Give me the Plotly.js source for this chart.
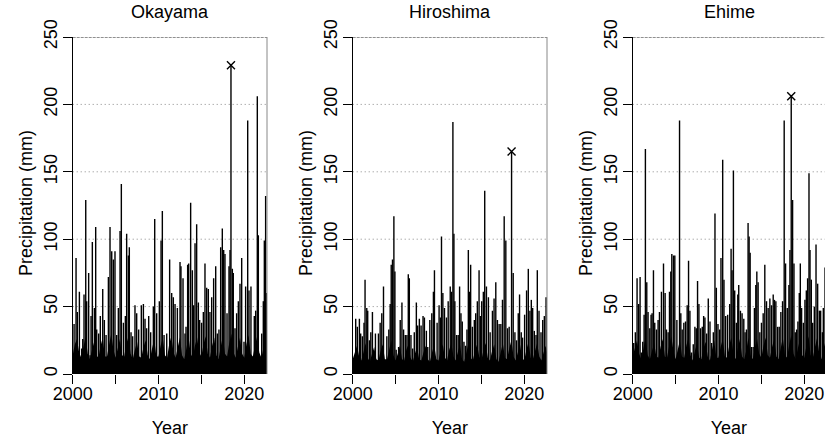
<!DOCTYPE html>
<html>
<head>
<meta charset="utf-8">
<script src="https://cdn.plot.ly/plotly-3.0.1.min.js"></script>
<style>html,body{margin:0;padding:0;background:#fff;}#chart{width:825px;height:441px;}</style>
</head>
<body>
<div id="chart"></div>
<script>
// ---------- data (decimal year, daily precipitation mm) ----------
const panelNames = ["Okayama", "Hiroshima", "Ehime"];
const eventYear = 2018.5; // marked event (July 2018)

const okaYears = [2000.16,2000.39,2000.54,2000.78,2001.05,2001.17,2001.32,2001.52,2001.63,2001.86,2002.02,2002.14,2002.29,2002.53,2002.68,2002.80,2003.03,2003.22,2003.50,2003.69,2003.89,2004.16,2004.35,2004.55,2004.74,2004.93,2005.13,2005.32,2005.52,2005.67,2005.91,2006.14,2006.29,2006.49,2006.60,2006.80,2006.99,2007.26,2007.46,2007.69,2008.00,2008.24,2008.43,2008.62,2008.86,2009.09,2009.40,2009.56,2009.79,2010.10,2010.30,2010.45,2010.65,2010.96,2011.30,2011.54,2011.73,2011.93,2012.20,2012.51,2012.62,2012.86,2013.09,2013.21,2013.40,2013.52,2013.75,2013.95,2014.10,2014.26,2014.45,2014.65,2014.80,2015.03,2015.23,2015.42,2015.62,2015.81,2016.00,2016.20,2016.43,2016.67,2016.86,2017.05,2017.25,2017.44,2017.60,2017.75,2017.99,2018.22,2018.34,2018.45,2018.61,2018.72,2018.92,2019.11,2019.31,2019.50,2019.70,2019.97,2020.16,2020.40,2020.55,2020.78,2021.17,2021.33,2021.52,2021.64,2022.03,2022.22,2022.34,2022.49,2022.60];
const okaPrecip = [37,86,46,61,19,26,59,129,54,75,14,43,98,49,109,33,30,43,63,40,29,72,109,91,85,91,29,49,106,141,38,43,104,88,94,31,28,51,45,33,51,52,41,34,43,31,50,115,45,54,99,121,29,30,85,60,57,52,49,83,80,71,30,35,81,82,127,77,51,97,111,53,40,38,46,82,64,63,46,57,71,80,30,33,94,108,92,89,45,80,92,229,78,75,34,45,54,67,86,24,65,188,62,65,43,47,206,103,30,54,99,132,60];

const hiroYears = [2000.35,2000.54,2000.78,2000.93,2001.13,2001.32,2001.44,2001.64,2001.75,2001.95,2002.11,2002.30,2002.65,2003.00,2003.20,2003.39,2003.59,2003.98,2004.21,2004.37,2004.49,2004.64,2004.80,2004.92,2005.07,2005.35,2005.54,2005.74,2005.93,2006.13,2006.32,2006.48,2006.60,2006.79,2006.99,2007.18,2007.42,2007.57,2007.77,2007.97,2008.20,2008.36,2008.59,2008.75,2008.99,2009.22,2009.41,2009.53,2009.84,2010.07,2010.23,2010.35,2010.51,2010.70,2010.93,2011.13,2011.37,2011.52,2011.68,2011.80,2011.91,2012.11,2012.30,2012.46,2012.62,2012.77,2012.97,2013.16,2013.32,2013.48,2013.63,2013.75,2013.95,2014.18,2014.34,2014.53,2014.73,2014.88,2015.04,2015.23,2015.39,2015.59,2015.82,2016.02,2016.29,2016.48,2016.68,2016.87,2017.07,2017.27,2017.46,2017.66,2017.85,2018.05,2018.24,2018.52,2018.71,2018.91,2019.10,2019.30,2019.45,2019.65,2019.80,2020.04,2020.27,2020.47,2020.66,2020.82,2020.98,2021.17,2021.37,2021.52,2021.72,2021.95,2022.15,2022.34,2022.54];
const hiroPrecip = [41,35,41,30,28,38,70,49,47,25,31,46,30,30,38,45,65,28,33,52,81,85,117,76,18,20,40,53,33,29,29,74,71,29,19,31,53,36,41,36,43,42,32,20,40,45,61,77,38,51,42,102,60,49,42,54,65,61,187,104,54,29,29,65,45,39,24,21,33,92,61,81,35,40,45,54,77,43,54,61,136,65,57,31,47,56,68,40,37,37,55,117,99,34,35,165,75,31,25,45,59,31,27,44,62,78,47,55,49,32,29,77,47,31,40,43,57];

const ehimeYears = [2000.12,2000.31,2000.51,2000.70,2000.86,2001.01,2001.17,2001.33,2001.48,2001.64,2001.79,2001.99,2002.14,2002.26,2002.42,2002.57,2002.77,2002.96,2003.12,2003.35,2003.59,2003.78,2003.94,2004.13,2004.29,2004.44,2004.56,2004.76,2004.91,2005.15,2005.46,2005.61,2005.77,2005.96,2006.16,2006.35,2006.51,2006.67,2006.86,2007.06,2007.25,2007.41,2007.56,2007.72,2007.91,2008.11,2008.27,2008.42,2008.62,2008.81,2009.01,2009.20,2009.40,2009.59,2009.75,2009.94,2010.14,2010.29,2010.49,2010.64,2010.84,2011.07,2011.31,2011.47,2011.58,2011.74,2011.89,2012.09,2012.25,2012.36,2012.56,2012.75,2012.95,2013.10,2013.26,2013.45,2013.57,2013.69,2013.84,2014.04,2014.19,2014.35,2014.47,2014.62,2014.82,2015.01,2015.21,2015.40,2015.60,2015.79,2015.99,2016.18,2016.38,2016.53,2016.69,2016.89,2017.08,2017.27,2017.47,2017.66,2017.82,2018.02,2018.21,2018.33,2018.48,2018.64,2018.80,2018.95,2019.11,2019.26,2019.42,2019.54,2019.69,2019.89,2020.08,2020.24,2020.39,2020.55,2020.67,2020.82,2020.98,2021.17,2021.37,2021.56,2021.76,2021.91,2022.11,2022.22,2022.42];
const ehimePrecip = [23,31,71,52,72,16,24,44,167,68,46,34,44,45,77,38,33,40,46,61,82,60,33,31,61,76,89,88,88,40,188,45,33,38,39,51,84,47,16,22,35,34,69,52,34,35,43,42,30,56,39,23,31,119,64,37,33,86,159,70,43,44,52,93,77,151,62,38,59,66,47,45,41,31,33,112,102,90,20,20,49,66,76,68,31,38,45,81,54,49,56,51,59,55,54,35,35,46,54,188,82,49,66,92,206,129,82,31,33,39,60,82,49,38,55,62,71,149,92,70,38,50,96,67,47,47,31,49,79];

// dense low-level background (quarter-year steps)
const baseYears = [];
for (let y = 2000; y <= 2022.76; y += 0.25) baseYears.push(+y.toFixed(2));
const okaBase = [14,22,26,16, 12,20,28,15, 11,18,24,14, 12,21,27,13, 13,22,30,18, 12,19,26,14, 13,22,28,15, 11,18,24,13, 12,20,25,14, 11,19,26,13, 13,21,27,14, 12,22,28,16, 12,20,27,14, 11,19,28,15, 12,21,27,16, 13,22,28,15, 12,21,27,14, 11,20,28,15, 13,23,30,16, 12,20,27,15, 12,22,29,15, 13,21,28,16, 12,20,26,16];
const hiroBase = [11,17,21,13, 10,16,23,12, 9,15,20,11, 10,17,22,11, 11,18,25,14, 10,15,21,11, 10,18,22,12, 9,15,20,11, 10,16,21,11, 9,16,22,11, 10,17,22,12, 10,18,23,13, 10,16,22,11, 9,16,23,12, 10,17,22,13, 10,18,23,12, 10,17,22,11, 9,16,23,12, 11,19,25,13, 10,16,22,12, 10,18,24,12, 11,17,23,13, 10,16,21,13];
const ehimeBase = [13,20,25,15, 11,19,27,14, 11,17,23,13, 12,20,26,13, 12,21,28,17, 11,18,25,13, 12,21,27,14, 10,17,23,12, 11,19,24,13, 10,18,25,12, 12,20,26,13, 12,21,27,15, 11,19,26,13, 11,18,27,14, 11,20,26,15, 12,21,27,14, 12,20,26,13, 11,19,27,14, 12,22,29,15, 11,19,26,14, 12,21,28,14, 12,20,27,15, 11,19,25,15];

// ---------- build ----------
const W = 825, H = 441;
const xLeft = [72.7, 352.7, 632.7];
const pxPerYear = 194.3 / 22.65;
const yBottom = 374, yTop = 37;

const series = [
  {years: okaYears, vals: okaPrecip, base: okaBase},
  {years: hiroYears, vals: hiroPrecip, base: hiroBase},
  {years: ehimeYears, vals: ehimePrecip, base: ehimeBase}
];

const traces = [];
const shapes = [];
const annotations = [];
const layout = {
  width: W, height: H,
  margin: {l: 0, r: 0, t: 0, b: 0},
  paper_bgcolor: "#ffffff",
  plot_bgcolor: "rgba(0,0,0,0)",
  showlegend: false,
  font: {family: "Liberation Sans, Arial, Helvetica, sans-serif", size: 18, color: "#000"}
};

series.forEach((s, i) => {
  const n = i === 0 ? "" : String(i + 1);
  const xa = "x" + n, ya = "y" + n;
  const left = xLeft[i];
  const right = Math.min(left + 194.3, W);
  const xEnd = 2000 + (right - left) / pxPerYear;

  traces.push({
    type: "scatter", mode: "lines", x: baseYears, y: s.base,
    xaxis: xa, yaxis: ya, fill: "tozeroy", fillcolor: "#000",
    line: {width: 0, shape: "linear", color: "#000"}, hoverinfo: "skip"
  });

  const hx = [], hy = [];
  s.years.forEach((yr, k) => { hx.push(yr, yr, null); hy.push(0, s.vals[k], null); });
  traces.push({
    type: "scatter", mode: "lines", x: hx, y: hy, xaxis: xa, yaxis: ya,
    line: {width: 1.4, color: "#000"}, connectgaps: false, hoverinfo: "skip"
  });

  let mi = 0;
  s.years.forEach((yr, k) => { if (Math.abs(yr - eventYear) < Math.abs(s.years[mi] - eventYear)) mi = k; });
  traces.push({
    type: "scatter", mode: "markers", x: [s.years[mi]], y: [s.vals[mi]],
    xaxis: xa, yaxis: ya,
    marker: {symbol: "x-thin-open", size: 8, color: "#000", line: {width: 1.4, color: "#000"}}
  });

  const dom = [left / W, right / W];
  const ydom = [(H - yBottom) / H, (H - yTop) / H];
  layout["xaxis" + n] = {
    domain: dom, range: [2000, xEnd], anchor: ya,
    tickmode: "array", tickvals: [2000, 2005, 2010, 2015, 2020],
    ticktext: ["2000", "", "2010", "", "2020"],
    ticks: "outside", ticklen: 9, tickwidth: 1, tickcolor: "#000",
    showline: false, showgrid: false, zeroline: false,
    tickfont: {size: 18}, ticklabelstandoff: -6,
    title: {text: "Year", font: {size: 18}, standoff: 18}
  };
  layout["yaxis" + n] = {
    domain: ydom, range: [0, 250], anchor: xa,
    tickmode: "array", tickvals: [0, 50, 100, 150, 200, 250],
    ticks: "outside", ticklen: 9, tickwidth: 1, tickcolor: "#000",
    tickangle: -90, tickfont: {size: 18}, ticklabelstandoff: -1,
    showline: true, linecolor: "#000", linewidth: 1,
    showgrid: false, zeroline: false
  };

  [0, 50, 100, 150, 200].forEach(v => {
    shapes.push({type: "line", xref: xa + " domain", yref: ya, x0: 0, x1: 1, y0: v, y1: v,
      line: {color: "#8a8a8a", width: 1, dash: "1px,3px"}, layer: "below"});
  });
  shapes.push({type: "line", xref: xa + " domain", yref: ya, x0: 0, x1: 1, y0: 250, y1: 250,
    line: {color: "#222", width: 1, dash: "3px,1px"}, layer: "above"});
  if (right < W) {
    shapes.push({type: "line", xref: xa + " domain", yref: ya, x0: 1, x1: 1, y0: 0, y1: 250,
      line: {color: "#888", width: 1}, layer: "above"});
  }

  annotations.push({
    text: panelNames[i], xref: "paper", yref: "paper",
    x: (left + left + 194.3) / 2 / W, y: (H - 12) / H,
    xanchor: "center", yanchor: "middle", showarrow: false,
    font: {size: 18, color: "#000"}
  });
  annotations.push({
    text: "Precipitation (mm)", xref: "paper", yref: "paper",
    x: (left - 46.7) / W, y: (H - 203) / H, textangle: -90,
    xanchor: "center", yanchor: "middle", showarrow: false,
    font: {size: 18, color: "#000"}
  });
});

layout.shapes = shapes;
layout.annotations = annotations;

Plotly.newPlot("chart", traces, layout, {staticPlot: true, displayModeBar: false});
</script>
</body>
</html>
